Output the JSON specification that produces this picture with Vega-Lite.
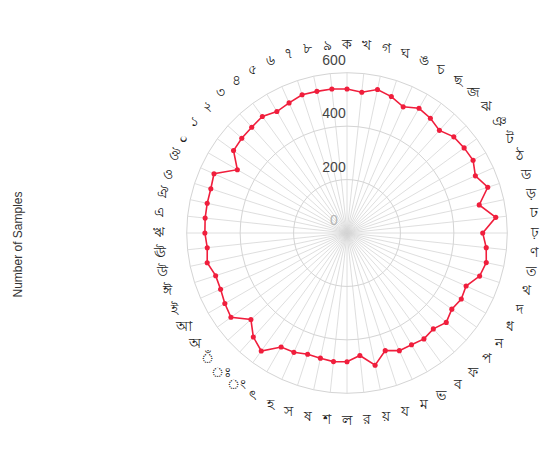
{
  "$schema": "https://vega.github.io/schema/vega-lite/v6.json",
  "width": 374,
  "height": 374,
  "autosize": "none",
  "padding": {"left": 160, "top": 46, "right": 12, "bottom": 33},
  "background": "white",
  "config": {"view": {"stroke": null}, "font": "Liberation Sans"},
  "datasets": {
    "main": [
      {"c": "ক", "n": 539}, {"c": "খ", "n": 530}, {"c": "গ", "n": 549}, {"c": "ঘ", "n": 537},
      {"c": "ঙ", "n": 517}, {"c": "চ", "n": 539}, {"c": "ছ", "n": 531}, {"c": "জ", "n": 517},
      {"c": "ঝ", "n": 538}, {"c": "ঞ", "n": 542}, {"c": "ট", "n": 545}, {"c": "ঠ", "n": 526},
      {"c": "ড", "n": 554}, {"c": "ড়", "n": 506}, {"c": "ঢ", "n": 560}, {"c": "ঢ়", "n": 508},
      {"c": "ণ", "n": 524}, {"c": "ত", "n": 533}, {"c": "থ", "n": 522}, {"c": "দ", "n": 488},
      {"c": "ধ", "n": 494}, {"c": "ন", "n": 485}, {"c": "প", "n": 500}, {"c": "ফ", "n": 483},
      {"c": "ব", "n": 490}, {"c": "ভ", "n": 483}, {"c": "ম", "n": 482}, {"c": "য", "n": 463},
      {"c": "য়", "n": 506}, {"c": "র", "n": 461}, {"c": "ল", "n": 482}, {"c": "শ", "n": 484},
      {"c": "ষ", "n": 479}, {"c": "স", "n": 477}, {"c": "হ", "n": 489}, {"c": "ৎ", "n": 493},
      {"c": "ং", "n": 546}, {"c": "ঃ", "n": 524}, {"c": "ঁ", "n": 484}, {"c": "অ", "n": 537},
      {"c": "আ", "n": 528}, {"c": "ই", "n": 518}, {"c": "ঈ", "n": 517}, {"c": "উ", "n": 535},
      {"c": "ঊ", "n": 526}, {"c": "ঋ", "n": 532}, {"c": "এ", "n": 534}, {"c": "ঐ", "n": 535},
      {"c": "ও", "n": 536}, {"c": "ঔ", "n": 545}, {"c": "০", "n": 474}, {"c": "১", "n": 525},
      {"c": "২", "n": 530}, {"c": "৩", "n": 533}, {"c": "৪", "n": 539}, {"c": "৫", "n": 525},
      {"c": "৬", "n": 533}, {"c": "৭", "n": 544}, {"c": "৮", "n": 542}, {"c": "৯", "n": 542}
    ],
    "levels": [{"level": 0}, {"level": 200}, {"level": 400}, {"level": 600}]
  },
  "data": {"name": "main"},
  "transform": [
    {"window": [{"op": "row_number", "as": "rn"}]},
    {"calculate": "(datum.rn - 1) * 2 * PI / 60", "as": "a"},
    {"calculate": "datum.n * sin(datum.a)", "as": "px"},
    {"calculate": "datum.n * cos(datum.a)", "as": "py"},
    {"calculate": "200 * sin(datum.a)", "as": "g2x"},
    {"calculate": "200 * cos(datum.a)", "as": "g2y"},
    {"calculate": "400 * sin(datum.a)", "as": "g4x"},
    {"calculate": "400 * cos(datum.a)", "as": "g4y"},
    {"calculate": "600 * sin(datum.a)", "as": "g6x"},
    {"calculate": "600 * cos(datum.a)", "as": "g6y"},
    {"calculate": "705 * sin(datum.a)", "as": "lx"},
    {"calculate": "705 * cos(datum.a)", "as": "ly"},
    {"calculate": "0", "as": "z"}
  ],
  "encoding": {
    "x": {"type": "quantitative", "scale": {"domain": [-700, 700]}, "axis": null},
    "y": {"type": "quantitative", "scale": {"domain": [-700, 700]},
      "axis": {"title": "Number of Samples", "labels": false, "ticks": false, "domain": false, "grid": false, "titlePadding": 136, "titleY": 198, "titleFontWeight": "normal", "titleFontSize": 12, "titleColor": "#333", "titleFont": "Liberation Sans"}}
  },
  "layer": [
    {
      "mark": {"type": "rule", "stroke": "#d6d6d6", "strokeWidth": 0.8},
      "encoding": {
        "x": {"field": "z", "type": "quantitative"},
        "y": {"field": "z", "type": "quantitative"},
        "x2": {"field": "g6x"},
        "y2": {"field": "g6y"}
      }
    },
    {
      "mark": {"type": "line", "interpolate": "linear-closed", "stroke": "#d4d4d4", "strokeWidth": 1},
      "encoding": {
        "x": {"field": "g2x", "type": "quantitative"},
        "y": {"field": "g2y", "type": "quantitative"},
        "order": {"field": "rn"}
      }
    },
    {
      "mark": {"type": "line", "interpolate": "linear-closed", "stroke": "#d4d4d4", "strokeWidth": 1},
      "encoding": {
        "x": {"field": "g4x", "type": "quantitative"},
        "y": {"field": "g4y", "type": "quantitative"},
        "order": {"field": "rn"}
      }
    },
    {
      "mark": {"type": "line", "interpolate": "linear-closed", "stroke": "#d4d4d4", "strokeWidth": 1},
      "encoding": {
        "x": {"field": "g6x", "type": "quantitative"},
        "y": {"field": "g6y", "type": "quantitative"},
        "order": {"field": "rn"}
      }
    },
    {
      "data": {"name": "levels"},
      "transform": [{"calculate": "0", "as": "z"}],
      "mark": {"type": "text", "fontSize": 14, "dx": -13, "dy": -12},
      "encoding": {
        "x": {"field": "z", "type": "quantitative"},
        "y": {"field": "level", "type": "quantitative"},
        "text": {"field": "level", "type": "quantitative"},
        "color": {"condition": {"test": "datum.level == 0", "value": "#b5b5b5"}, "value": "#444"}
      }
    },
    {
      "mark": {"type": "line", "interpolate": "linear-closed", "stroke": "#f01e3c", "strokeWidth": 1.6},
      "encoding": {
        "x": {"field": "px", "type": "quantitative"},
        "y": {"field": "py", "type": "quantitative"},
        "order": {"field": "rn"}
      }
    },
    {
      "mark": {"type": "point", "filled": true, "color": "#f01e3c", "size": 26, "opacity": 1},
      "encoding": {
        "x": {"field": "px", "type": "quantitative"},
        "y": {"field": "py", "type": "quantitative"}
      }
    },
    {
      "mark": {"type": "text", "fontSize": 14, "color": "#222", "baseline": "middle", "align": "center"},
      "encoding": {
        "x": {"field": "lx", "type": "quantitative"},
        "y": {"field": "ly", "type": "quantitative"},
        "text": {"field": "c", "type": "nominal"}
      }
    }
  ]
}
